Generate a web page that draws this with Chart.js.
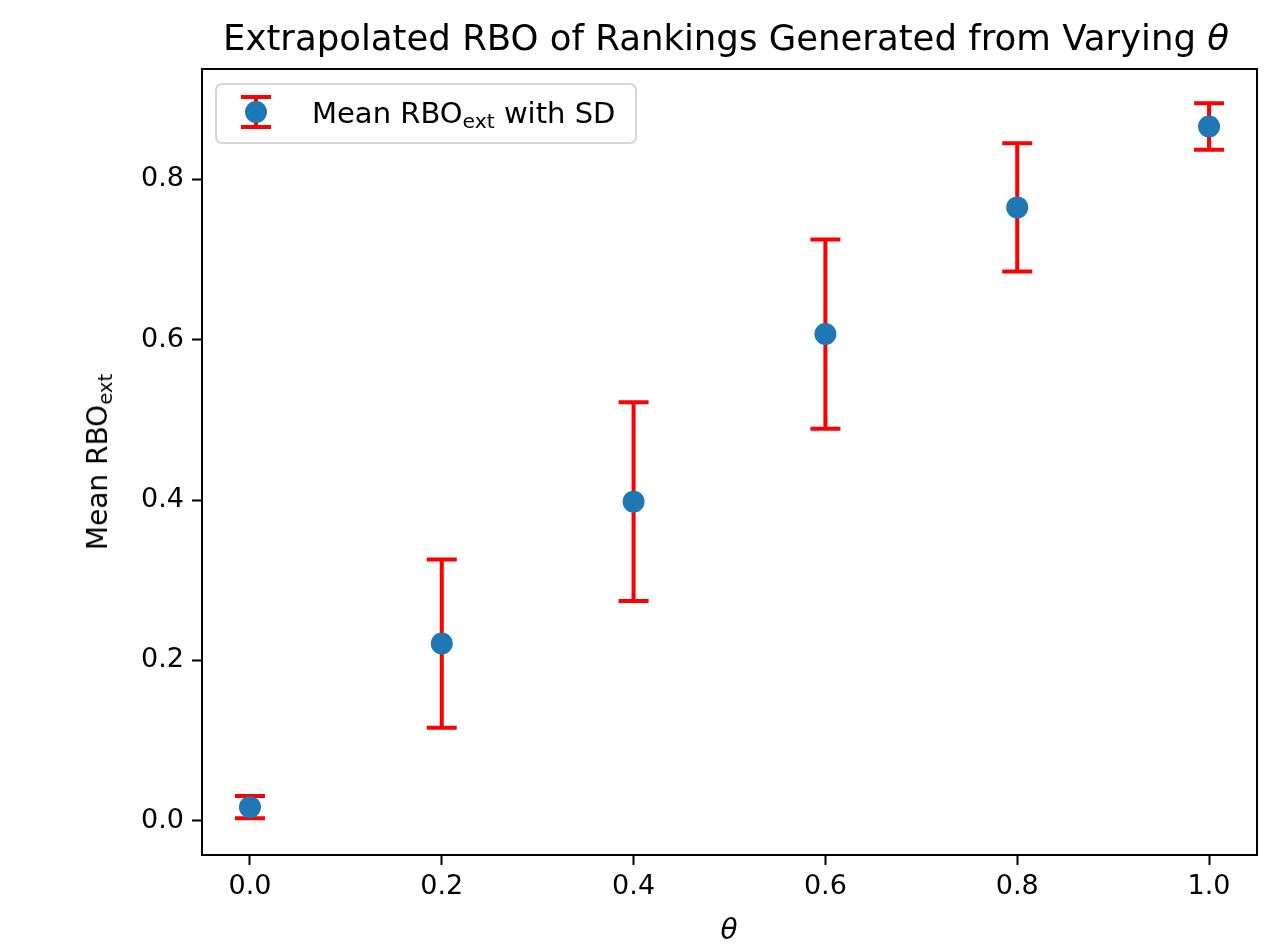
<!DOCTYPE html>
<html>
<head>
<meta charset="utf-8">
<script src="https://cdn.jsdelivr.net/npm/chart.js@4.4.1/dist/chart.umd.min.js"></script>
<style>
  html, body { margin: 0; padding: 0; background: #fff; }
  #wrap { position: relative; width: 1281px; height: 948px; font-family: 'DejaVu Sans', sans-serif; color: #000; }
  #wrap canvas { position: absolute; left: 0; top: 0; }
  .txt { position: absolute; white-space: nowrap; line-height: 1; }
  .txt sub { font-size: 70%; vertical-align: -0.25em; line-height: 0; }
  #title { left: 726px; top: 38px; transform: translate(-50%, -50%); font-size: 35.5px; }
  #xlabel { left: 729px; top: 930px; transform: translate(-50%, -50%); font-size: 28px; font-style: italic; }
  #ylabel { left: 98px; top: 462px; transform: translate(-50%, -50%) rotate(-90deg); font-size: 28px; }
  #legendText { left: 312px; top: 113px; transform: translateY(-50%); font-size: 29px; }
</style>
</head>
<body>
<div id="wrap">
  <canvas id="rboChart" width="1281" height="948"></canvas>
  <div class="txt" id="title">Extrapolated RBO of Rankings Generated from Varying <i>θ</i></div>
  <div class="txt" id="xlabel">θ</div>
  <div class="txt" id="ylabel">Mean RBO<sub>ext</sub></div>
  <div class="txt" id="legendText">Mean RBO<sub>ext</sub> with SD</div>
</div>
<script>
// 数据
var thetas = [0.0, 0.2, 0.4, 0.6, 0.8, 1.0];
var meanRbo = [0.017, 0.221, 0.398, 0.607, 0.765, 0.866];
var sdRbo = [0.014, 0.105, 0.124, 0.118, 0.080, 0.029];
var xTicks = [0.0, 0.2, 0.4, 0.6, 0.8, 1.0];
var yTicks = [0.0, 0.2, 0.4, 0.6, 0.8];

var points = thetas.map(function(t, i) { return { x: t, y: meanRbo[i] }; });

// 画误差线
function drawErrorBar(ctx, cx, yTop, yBot, cap) {
    ctx.beginPath();
    ctx.moveTo(cx, yTop); ctx.lineTo(cx, yBot);
    ctx.moveTo(cx - cap, yTop); ctx.lineTo(cx + cap, yTop);
    ctx.moveTo(cx - cap, yBot); ctx.lineTo(cx + cap, yBot);
    ctx.stroke();
}

var errorBarPlugin = {
    id: 'errorBars',
    beforeDatasetsDraw: function(chart) {
        var ctx = chart.ctx, xs = chart.scales.x, ys = chart.scales.y;
        ctx.save();
        ctx.strokeStyle = '#ff0000';
        ctx.lineWidth = 4;
        thetas.forEach(function(t, i) {
            drawErrorBar(ctx, xs.getPixelForValue(t),
                ys.getPixelForValue(meanRbo[i] + sdRbo[i]),
                ys.getPixelForValue(meanRbo[i] - sdRbo[i]), 15);
        });
        ctx.restore();
    },
    afterDraw: function(chart) {
        var ctx = chart.ctx, a = chart.chartArea;
        ctx.save();
        // 上边和右边的框
        ctx.strokeStyle = '#000';
        ctx.lineWidth = 2;
        ctx.beginPath();
        ctx.moveTo(a.left, a.top); ctx.lineTo(a.right, a.top); ctx.lineTo(a.right, a.bottom);
        ctx.stroke();
        // 图例框
        var lx = 216, ly = 84, lw = 420, lh = 59, r = 6;
        ctx.beginPath();
        ctx.moveTo(lx + r, ly);
        ctx.arcTo(lx + lw, ly, lx + lw, ly + lh, r);
        ctx.arcTo(lx + lw, ly + lh, lx, ly + lh, r);
        ctx.arcTo(lx, ly + lh, lx, ly, r);
        ctx.arcTo(lx, ly, lx + lw, ly, r);
        ctx.closePath();
        ctx.fillStyle = 'rgba(255,255,255,0.8)';
        ctx.fill();
        ctx.strokeStyle = '#d6d6d6';
        ctx.lineWidth = 2;
        ctx.stroke();
        ctx.strokeStyle = '#ff0000';
        ctx.lineWidth = 4;
        drawErrorBar(ctx, 256, 97, 127, 15);
        ctx.fillStyle = '#1f77b4';
        ctx.beginPath();
        ctx.arc(256, 112, 11, 0, Math.PI * 2);
        ctx.fill();
        ctx.restore();
    }
};

var tickFont = { family: 'DejaVu Sans', size: 27 };

new Chart(document.getElementById('rboChart').getContext('2d'), {
    type: 'scatter',
    data: {
        datasets: [{
            label: 'Mean RBO ext with SD',
            data: points,
            backgroundColor: '#1f77b4',
            borderColor: '#1f77b4',
            pointRadius: 11,
            pointHoverRadius: 11,
            borderWidth: 0
        }]
    },
    options: {
        responsive: false,
        animation: false,
        events: [],
        layout: { padding: { left: 0, top: 69, right: 24, bottom: 0 } },
        plugins: {
            legend: { display: false },
            title: { display: false },
            tooltip: { enabled: false }
        },
        scales: {
            x: {
                type: 'linear',
                min: -0.05,
                max: 1.05,
                afterBuildTicks: function(scale) {
                    scale.ticks = xTicks.map(function(v) { return { value: v }; });
                },
                afterFit: function(scale) { scale.height = 93; },
                ticks: {
                    color: '#000',
                    font: tickFont,
                    padding: 6,
                    maxRotation: 0,
                    callback: function(v) { return v.toFixed(1); }
                },
                grid: { display: true, drawOnChartArea: false, drawTicks: true, tickLength: 10, tickWidth: 2, tickColor: '#000' },
                border: { display: true, color: '#000', width: 2 }
            },
            y: {
                type: 'linear',
                min: -0.0427,
                max: 0.9376,
                afterBuildTicks: function(scale) {
                    scale.ticks = yTicks.map(function(v) { return { value: v }; });
                },
                afterFit: function(scale) { scale.width = 202; },
                ticks: {
                    color: '#000',
                    font: tickFont,
                    padding: 8,
                    callback: function(v) { return v.toFixed(1); }
                },
                grid: { display: true, drawOnChartArea: false, drawTicks: true, tickLength: 10, tickWidth: 2, tickColor: '#000' },
                border: { display: true, color: '#000', width: 2 }
            }
        }
    },
    plugins: [errorBarPlugin]
});
</script>
</body>
</html>
